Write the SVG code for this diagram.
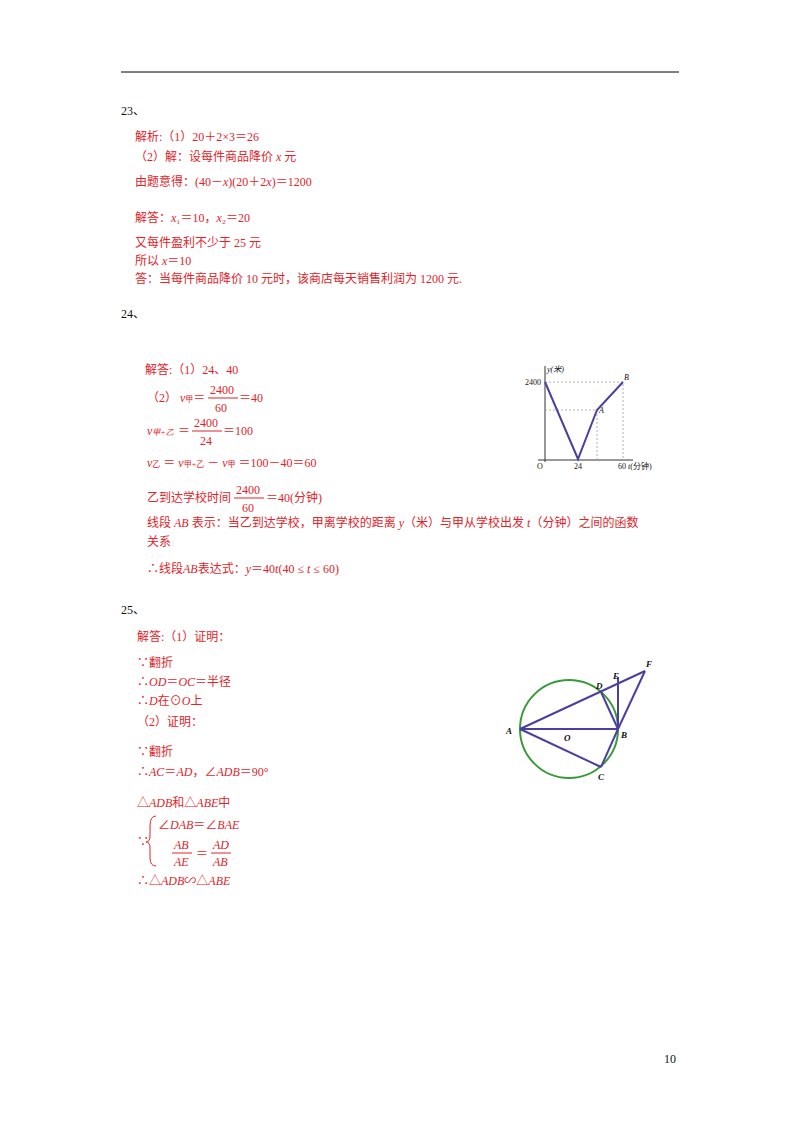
<svg xmlns="http://www.w3.org/2000/svg" width="800" height="1132" viewBox="0 0 800 1132">
<style>
text{font-family:"Liberation Serif","Noto Sans CJK SC",serif;font-size:12px}
.r{fill:#e0242a}
.k{fill:#111}
.i{font-style:italic}
.s{font-size:8px}
.ln{stroke:#4b3fa0;stroke-width:2;fill:none}
.d{stroke:#999;stroke-width:0.8;stroke-dasharray:2,2;fill:none}
.ax{stroke:#333;stroke-width:1;fill:none}
</style>
<rect width="800" height="1132" fill="#fff"/>
<line x1="121" y1="72" x2="679" y2="72" stroke="#000" stroke-width="1"/>
<text class="k" x="121" y="115">23、</text>
<g id="q23">
<text class="r" x="135" y="141">解析:（1）20＋2×3＝26</text>
<text class="r" x="135" y="161">（2）解：设每件商品降价 <tspan class="i">x</tspan> 元</text>
<text class="r" x="135" y="186">由题意得：(40－<tspan class="i">x</tspan>)(20＋2<tspan class="i">x</tspan>)＝1200</text>
<text class="r" x="135" y="222">解答：<tspan class="i">x</tspan>₁＝10，<tspan class="i">x</tspan>₂＝20</text>
<text class="r" x="135" y="247">又每件盈利不少于 25 元</text>
<text class="r" x="135" y="265">所以 <tspan class="i">x</tspan>＝10</text>
<text class="r" x="135" y="283">答：当每件商品降价 10 元时，该商店每天销售利润为 1200 元.</text>
</g>
<text class="k" x="121" y="318">24、</text>
<g id="q24">
<text class="r" x="145" y="374">解答:（1）24、40</text>
<text class="r" x="147" y="402">（2） <tspan class="i">v</tspan><tspan class="s">甲</tspan>＝</text>
<text class="r" x="210" y="394">2400</text><line x1="208" y1="398" x2="238" y2="398" stroke="#e0242a"/><text class="r" x="215" y="412">60</text>
<text class="r" x="239" y="402">＝40</text>
<text class="r i" x="147" y="435">v<tspan class="s">甲+乙</tspan></text><text class="r" x="178" y="435">＝</text>
<text class="r" x="194" y="427">2400</text><line x1="192" y1="431" x2="222" y2="431" stroke="#e0242a"/><text class="r" x="200" y="445">24</text>
<text class="r" x="223" y="435">＝100</text>
<text class="r" x="147" y="467"><tspan class="i">v</tspan><tspan class="s">乙</tspan> ＝ <tspan class="i">v</tspan><tspan class="s">甲+乙</tspan> － <tspan class="i">v</tspan><tspan class="s">甲</tspan> ＝100－40＝60</text>
<text class="r" x="147" y="502">乙到达学校时间</text>
<text class="r" x="236" y="494">2400</text><line x1="234" y1="498" x2="264" y2="498" stroke="#e0242a"/><text class="r" x="242" y="512">60</text>
<text class="r" x="266" y="502">＝40(分钟)</text>
<text class="r" x="147" y="527">线段 <tspan class="i">AB</tspan> 表示：当乙到达学校，甲离学校的距离 <tspan class="i">y</tspan>（米）与甲从学校出发 <tspan class="i">t</tspan>（分钟）之间的函数</text>
<text class="r" x="147" y="546">关系</text>
<text class="r" x="147" y="573">∴线段<tspan class="i">AB</tspan>表达式：<tspan class="i">y</tspan>＝40<tspan class="i">t</tspan>(40 ≤ <tspan class="i">t</tspan> ≤ 60)</text>
</g>
<g id="graph24">
<line class="ax" x1="545" y1="462" x2="545" y2="366"/>
<line class="ax" x1="538" y1="460" x2="633" y2="460"/>
<polyline class="d" points="545,382 623,382 623,460"/>
<polyline class="d" points="545,410 597,410 597,460"/>
<polyline class="ln" points="545,382 578,459 597,410 623,382"/>
<text class="k i s" x="547" y="372">y(米)</text>
<text class="k s" x="525" y="385">2400</text>
<text class="k i s" x="599" y="413">A</text>
<text class="k i s" x="624" y="380">B</text>
<text class="k s" x="537" y="469">O</text>
<text class="k s" x="574" y="469">24</text>
<text class="k s" x="618" y="469">60 <tspan class="i">t</tspan>(分钟)</text>
</g>
<text class="k" x="121" y="614">25、</text>
<g id="q25">
<text class="r" x="137" y="641">解答:（1）证明：</text>
<text class="r" x="137" y="667">∵翻折</text>
<text class="r" x="137" y="686">∴<tspan class="i">OD</tspan>＝<tspan class="i">OC</tspan>＝半径</text>
<text class="r" x="137" y="705">∴<tspan class="i">D</tspan>在⊙<tspan class="i">O</tspan>上</text>
<text class="r" x="137" y="726">（2）证明：</text>
<text class="r" x="137" y="756">∵翻折</text>
<text class="r" x="137" y="776">∴<tspan class="i">AC</tspan>＝<tspan class="i">AD</tspan>，∠<tspan class="i">ADB</tspan>＝90°</text>
<text class="r" x="137" y="807">△<tspan class="i">ADB</tspan>和△<tspan class="i">ABE</tspan>中</text>
<text class="r" x="137" y="846">∵</text>
<path d="M156,816 Q150,816 150,826 L150,836 Q150,842 146,842 Q150,842 150,848 L150,858 Q150,866 156,866" stroke="#e0242a" fill="none"/>
<text class="r" x="158" y="829">∠<tspan class="i">DAB</tspan>＝∠<tspan class="i">BAE</tspan></text>
<text class="r i" x="174" y="849">AB</text><line x1="172" y1="853" x2="192" y2="853" stroke="#e0242a"/><text class="r i" x="174" y="866">AE</text>
<text class="r" x="196" y="858">＝</text>
<text class="r i" x="213" y="849">AD</text><line x1="211" y1="853" x2="231" y2="853" stroke="#e0242a"/><text class="r i" x="213" y="866">AB</text>
<text class="r" x="137" y="885">∴△<tspan class="i">ADB</tspan>∽△<tspan class="i">ABE</tspan></text>
</g>
<g id="circle25">
<circle cx="569" cy="729" r="49" fill="none" stroke="#3a9a3a" stroke-width="2"/>
<g class="ln" stroke-width="1.8">
<line x1="520" y1="729" x2="645" y2="671"/>
<line x1="520" y1="729" x2="618" y2="729"/>
<line x1="520" y1="729" x2="601" y2="767"/>
<line x1="601" y1="692" x2="618" y2="729"/>
<line x1="618" y1="677" x2="618" y2="729"/>
<line x1="645" y1="671" x2="618" y2="729"/>
<line x1="618" y1="729" x2="601" y2="767"/>
</g>
<text class="k i" x="506" y="734" style="font-size:9px;font-weight:bold">A</text>
<text class="k i" x="621" y="738" style="font-size:9px;font-weight:bold">B</text>
<text class="k i" x="598" y="780" style="font-size:9px;font-weight:bold">C</text>
<text class="k i" x="596" y="689" style="font-size:9px;font-weight:bold">D</text>
<text class="k i" x="613" y="679" style="font-size:9px;font-weight:bold">E</text>
<text class="k i" x="646" y="667" style="font-size:9px;font-weight:bold">F</text>
<text class="k i" x="564" y="741" style="font-size:9px;font-weight:bold">O</text>
</g>
<text class="k" x="664" y="1063">10</text>
</svg>
